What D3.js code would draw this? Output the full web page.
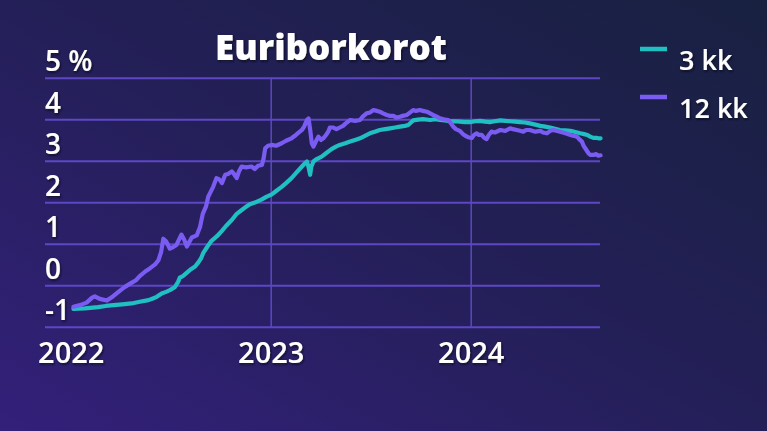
<!DOCTYPE html>
<html><head><meta charset="utf-8">
<script src="https://cdn.jsdelivr.net/npm/d3@7"></script>
<style>
html,body{margin:0;padding:0;background:#1e1f4a;overflow:hidden;}
svg{display:block;}
text{font-family:"Open Sans",sans-serif;fill:#fff;}
</style></head>
<body><svg id="chart" width="767" height="431"></svg>
<script>
const title = "Euriborkorot";
const seriesNames = ["3 kk", "12 kk"];
const seriesColors = ["#1fbfc2", "#7b5cf2"];
const yTicks = [-1, 0, 1, 2, 3, 4, 5];
const yTickLabels = ["-1", "0", "1", "2", "3", "4", "5 %"];
const xTicks = ["2022-01-01", "2023-01-01", "2024-01-01"];
const xTickLabels = ["2022", "2023", "2024"];

const dates3kk = ["2022-01-06","2022-01-27","2022-02-20","2022-03-06","2022-03-20","2022-04-05","2022-04-22","2022-05-07","2022-05-23","2022-05-31","2022-06-07","2022-06-16","2022-06-24","2022-07-01","2022-07-10","2022-07-16","2022-07-19","2022-07-25","2022-07-30","2022-08-07","2022-08-16","2022-08-22","2022-08-27","2022-08-31","2022-09-07","2022-09-15","2022-09-25","2022-10-04","2022-10-11","2022-10-22","2022-10-31","2022-11-08","2022-11-15","2022-11-24","2022-12-03","2022-12-16","2022-12-23","2023-01-03","2023-01-11","2023-01-21","2023-01-29","2023-02-08","2023-02-16","2023-02-27","2023-03-03","2023-03-08","2023-03-11","2023-03-14","2023-03-16","2023-03-20","2023-03-26","2023-04-04","2023-04-12","2023-04-22","2023-04-30","2023-05-07","2023-05-17","2023-05-26","2023-06-04","2023-06-13","2023-06-22","2023-07-01","2023-07-10","2023-07-19","2023-07-29","2023-08-07","2023-08-16","2023-08-25","2023-09-03","2023-09-09","2023-09-14","2023-09-18","2023-09-27","2023-10-06","2023-10-19","2023-10-28","2023-11-06","2023-11-15","2023-11-24","2023-12-03","2023-12-12","2023-12-21","2023-12-31","2024-01-09","2024-01-18","2024-01-27","2024-02-05","2024-02-14","2024-02-24","2024-03-04","2024-03-13","2024-03-22","2024-03-31","2024-04-09","2024-04-18","2024-04-28","2024-05-07","2024-05-16","2024-05-25","2024-06-03","2024-06-12","2024-06-22","2024-07-01","2024-07-10","2024-07-19","2024-07-26","2024-08-01","2024-08-06","2024-08-12","2024-08-17","2024-08-21","2024-08-25"];
const rate3kk = [-0.57,-0.56,-0.53,-0.50,-0.48,-0.46,-0.44,-0.40,-0.36,-0.32,-0.28,-0.20,-0.16,-0.12,-0.05,0.08,0.18,0.22,0.28,0.37,0.45,0.55,0.65,0.78,0.92,1.07,1.18,1.31,1.42,1.57,1.72,1.80,1.87,1.95,1.99,2.07,2.12,2.19,2.27,2.37,2.46,2.58,2.70,2.86,2.92,2.98,2.85,2.66,2.85,2.98,3.04,3.10,3.18,3.28,3.34,3.38,3.42,3.46,3.50,3.54,3.60,3.66,3.70,3.74,3.76,3.78,3.80,3.82,3.84,3.86,3.92,3.97,3.99,4.00,3.98,4.00,3.98,3.97,3.95,3.95,3.94,3.93,3.93,3.95,3.96,3.94,3.93,3.95,3.97,3.96,3.95,3.94,3.93,3.92,3.90,3.87,3.84,3.82,3.80,3.77,3.74,3.73,3.72,3.69,3.66,3.64,3.62,3.58,3.55,3.55,3.54,3.54];

const dates12kk = ["2022-01-06","2022-01-18","2022-01-30","2022-02-09","2022-02-14","2022-02-23","2022-03-08","2022-03-19","2022-04-01","2022-04-10","2022-04-21","2022-04-30","2022-05-07","2022-05-17","2022-05-26","2022-06-04","2022-06-10","2022-06-15","2022-06-19","2022-06-24","2022-07-01","2022-07-07","2022-07-13","2022-07-22","2022-07-27","2022-08-01","2022-08-10","2022-08-19","2022-08-25","2022-08-30","2022-09-05","2022-09-09","2022-09-15","2022-09-18","2022-09-24","2022-09-29","2022-10-04","2022-10-10","2022-10-15","2022-10-22","2022-10-26","2022-10-31","2022-11-04","2022-11-09","2022-11-17","2022-11-27","2022-12-03","2022-12-09","2022-12-16","2022-12-19","2022-12-22","2022-12-27","2023-01-03","2023-01-11","2023-01-21","2023-01-29","2023-02-08","2023-02-16","2023-02-27","2023-03-03","2023-03-08","2023-03-11","2023-03-14","2023-03-17","2023-03-20","2023-03-25","2023-03-29","2023-04-03","2023-04-07","2023-04-12","2023-04-16","2023-04-19","2023-04-25","2023-05-01","2023-05-07","2023-05-13","2023-05-18","2023-05-26","2023-06-04","2023-06-13","2023-06-18","2023-06-25","2023-07-01","2023-07-07","2023-07-14","2023-07-19","2023-07-25","2023-08-01","2023-08-07","2023-08-13","2023-08-18","2023-08-25","2023-08-30","2023-09-06","2023-09-12","2023-09-18","2023-09-23","2023-09-30","2023-10-06","2023-10-13","2023-10-19","2023-10-25","2023-10-31","2023-11-06","2023-11-13","2023-11-21","2023-11-26","2023-11-30","2023-12-05","2023-12-12","2023-12-18","2023-12-25","2023-12-29","2024-01-03","2024-01-07","2024-01-12","2024-01-16","2024-01-21","2024-01-25","2024-01-30","2024-02-03","2024-02-08","2024-02-14","2024-02-24","2024-03-04","2024-03-13","2024-03-18","2024-03-25","2024-03-31","2024-04-06","2024-04-11","2024-04-18","2024-04-28","2024-05-07","2024-05-12","2024-05-19","2024-05-25","2024-05-31","2024-06-05","2024-06-12","2024-06-22","2024-07-01","2024-07-06","2024-07-13","2024-07-17","2024-07-22","2024-07-25","2024-07-28","2024-08-03","2024-08-06","2024-08-12","2024-08-17","2024-08-21","2024-08-25"];
const rate12kk = [-0.52,-0.48,-0.42,-0.30,-0.27,-0.33,-0.37,-0.27,-0.13,-0.04,0.05,0.12,0.22,0.33,0.41,0.50,0.60,0.80,1.12,1.06,0.88,0.92,0.97,1.22,1.10,0.93,1.15,1.20,1.40,1.72,1.90,2.13,2.29,2.37,2.58,2.55,2.46,2.66,2.68,2.74,2.68,2.58,2.74,2.86,2.84,2.86,2.80,2.88,2.90,3.05,3.30,3.36,3.38,3.36,3.42,3.48,3.54,3.62,3.74,3.82,3.98,4.02,3.75,3.42,3.34,3.48,3.58,3.50,3.54,3.62,3.70,3.80,3.80,3.76,3.80,3.84,3.90,3.98,3.96,3.98,4.06,4.14,4.16,4.22,4.20,4.18,4.14,4.10,4.08,4.08,4.04,4.06,4.08,4.10,4.16,4.22,4.20,4.22,4.20,4.18,4.14,4.10,4.06,4.02,4.00,3.98,3.90,3.82,3.76,3.72,3.64,3.58,3.56,3.55,3.62,3.66,3.62,3.62,3.56,3.52,3.62,3.70,3.68,3.74,3.72,3.78,3.76,3.74,3.72,3.70,3.74,3.74,3.70,3.72,3.68,3.66,3.72,3.74,3.72,3.70,3.66,3.62,3.60,3.58,3.52,3.46,3.36,3.30,3.18,3.14,3.14,3.16,3.12,3.13];

const parse = d3.timeParse("%Y-%m-%d");
const svg = d3.select("#chart");
const W = 767, H = 431;

const defs = svg.append("defs");
const grad = defs.append("linearGradient").attr("id", "bg")
  .attr("x1", "0").attr("y1", "1").attr("x2", "1").attr("y2", "0");
grad.append("stop").attr("offset", "0").attr("stop-color", "#33207a");
grad.append("stop").attr("offset", "0.5").attr("stop-color", "#241f58");
grad.append("stop").attr("offset", "1").attr("stop-color", "#182140");
const sh = defs.append("filter").attr("id", "shadow")
  .attr("x", "-20%").attr("y", "-30%").attr("width", "140%").attr("height", "160%");
sh.append("feDropShadow").attr("dx", 1).attr("dy", 1.5).attr("stdDeviation", 1.3)
  .attr("flood-color", "#0a0a22").attr("flood-opacity", 0.85);

svg.append("rect").attr("width", W).attr("height", H).attr("fill", "url(#bg)");

const x = d3.scaleTime()
  .domain([parse("2022-01-01"), parse("2024-01-01")])
  .range([70.7, 470.7]);
const y = d3.scaleLinear().domain([-1, 5]).range([326.7, 77.7]);
const gridLeft = 45, gridRight = 600;

// horizontal grid + y labels
const yAxis = d3.axisLeft(y).tickValues(yTicks)
  .tickSize(-(gridRight - gridLeft)).tickFormat((d, i) => yTickLabels[i]);
const gy = svg.append("g").attr("transform", `translate(${gridLeft},0)`).call(yAxis);
gy.select(".domain").remove();
gy.selectAll(".tick line").attr("stroke", "#5d47c4").attr("stroke-width", 2);
gy.selectAll(".tick text")
  .attr("x", 0).attr("dy", null).attr("y", -7)
  .attr("text-anchor", "start")
  .attr("font-size", 28).attr("font-weight", 600)
  .attr("fill", "#fff").attr("filter", "url(#shadow)");

// vertical grid + x labels
const xAxis = d3.axisBottom(x).tickValues(xTicks.map(parse))
  .tickSize(0).tickFormat((d, i) => xTickLabels[i]);
const gx = svg.append("g").attr("transform", `translate(0,${y(-1)})`).call(xAxis);
gx.select(".domain").remove();
gx.selectAll(".tick text")
  .attr("y", 36).attr("dy", null)
  .attr("font-size", 29).attr("font-weight", 600)
  .attr("fill", "#fff").attr("filter", "url(#shadow)");
gx.selectAll(".tick").filter((d, i) => i > 0).append("line")
  .attr("y1", 0).attr("y2", y(5) - y(-1))
  .attr("stroke", "#5d47c4").attr("stroke-width", 1.5);

// lines
const series = [
  { name: seriesNames[0], color: seriesColors[0], pts: dates3kk.map((d, i) => [parse(d), rate3kk[i]]) },
  { name: seriesNames[1], color: seriesColors[1], pts: dates12kk.map((d, i) => [parse(d), rate12kk[i]]) }
];
const line = d3.line().x(d => x(d[0])).y(d => y(d[1])).curve(d3.curveLinear);
svg.append("g").selectAll("path").data(series).join("path")
  .attr("d", d => line(d.pts))
  .attr("fill", "none").attr("stroke", d => d.color)
  .attr("stroke-width", 4.2).attr("stroke-linejoin", "round").attr("stroke-linecap", "round");

// title
svg.append("text").attr("x", 331).attr("y", 60).attr("text-anchor", "middle")
  .attr("font-size", 35).attr("font-weight", 800).attr("filter", "url(#shadow)")
  .text(title);

// legend
const lg = svg.append("g").selectAll("g").data(series).join("g")
  .attr("transform", (d, i) => `translate(640,${49 + i * 48})`);
lg.append("line").attr("x1", 0).attr("x2", 27).attr("y1", 0).attr("y2", 0)
  .attr("stroke", d => d.color).attr("stroke-width", 4.5);
lg.append("text").attr("x", 39).attr("y", 21)
  .attr("font-size", 27).attr("font-weight", 600).attr("filter", "url(#shadow)")
  .text(d => d.name);
</script></body></html>
